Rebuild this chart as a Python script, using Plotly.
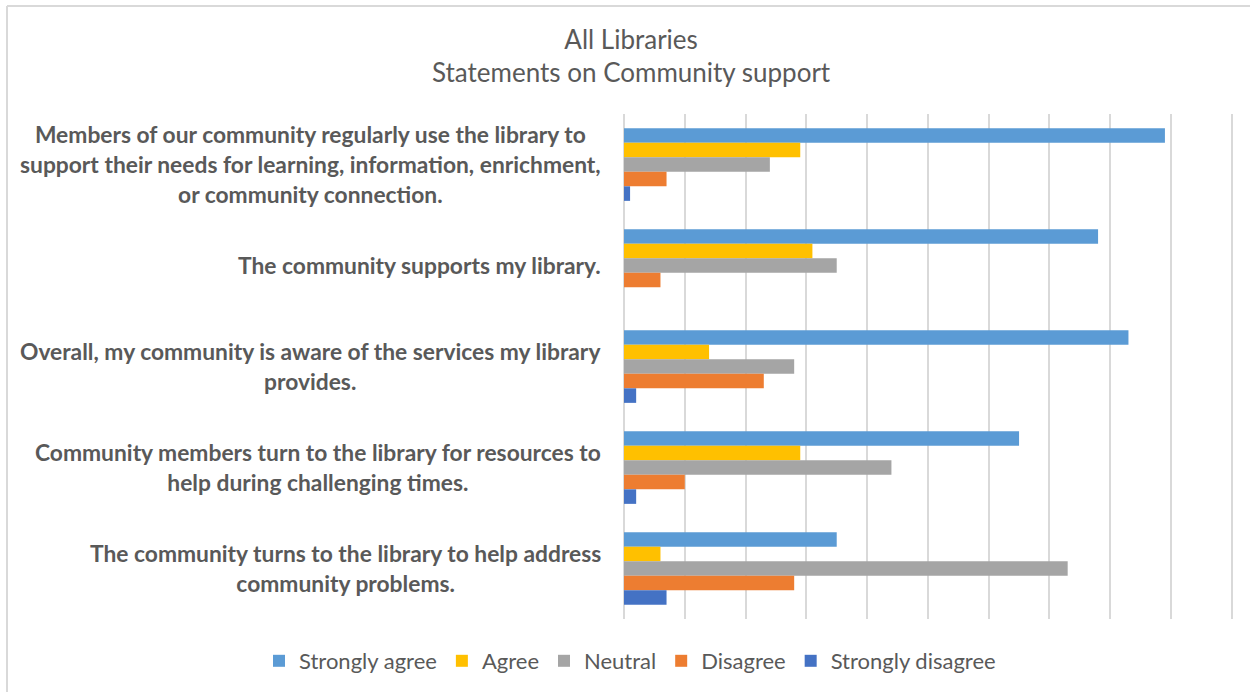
import plotly.graph_objects as go

# Survey statements (top to bottom) and response counts per answer
statements = [
    "Members of our community regularly use the library to<br>support their needs for learning, information, enrichment,<br>or community connection.",
    "The community supports my library.",
    "Overall, my community is aware of the services my library<br>provides.",
    "Community members turn to the library for resources to<br>help during challenging times.",
    "The community turns to the library to help address<br>community problems.",
]
categories = ["S1", "S2", "S3", "S4", "S5"]

strongly_agree = [89, 78, 83, 65, 35]
agree = [29, 31, 14, 29, 6]
neutral = [24, 35, 28, 44, 73]
disagree = [7, 6, 23, 10, 28]
strongly_disagree = [1, 0, 2, 2, 7]

series = [
    ("Strongly agree", strongly_agree, "#5B9BD5"),
    ("Agree", agree, "#FFC000"),
    ("Neutral", neutral, "#A5A5A5"),
    ("Disagree", disagree, "#ED7D31"),
    ("Strongly disagree", strongly_disagree, "#4472C4"),
]

TEXT = "#595959"
FONT = "Lato"

# plot area in pixels
L, T, W, H = 624, 114, 609, 505
XMAX = 100.2

fig = go.Figure()
for name, vals, color in series:
    fig.add_trace(go.Bar(
        y=categories, x=vals, name=name, orientation="h",
        marker=dict(color=color, line=dict(width=0)),
    ))


def spaced(text, size):
    # wrap each line so the glyph size is smaller than the line pitch
    return "<br>".join(f"<span style='font-size:{size}px'>{ln}</span>" for ln in text.split("<br>"))


def px_x(p):
    return (p - L) / W


def px_y(p):
    return 1 - (p - T) / H


annotations = []
for cat, label in zip(categories, statements):
    annotations.append(dict(
        x=0, xref="paper", y=cat, yref="y",
        xanchor="right", yanchor="middle", align="center", xshift=-21, yshift=1,
        text="<b>" + spaced(label, 22.8) + "</b>", showarrow=False,
        font=dict(family=FONT, size=23, color=TEXT),
    ))

# two-line chart heading
annotations.append(dict(
    x=px_x(631), xref="paper", y=px_y(56), yref="paper",
    xanchor="center", yanchor="middle", align="center",
    text=spaced("All Libraries<br>Statements on Community support", 26), showarrow=False,
    font=dict(family=FONT, size=25.5, color=TEXT),
))

border = dict(color="#D9D9D9", width=2)

fig.update_layout(
    width=1250, height=692,
    margin=dict(l=L, r=1250 - L - W, t=T, b=692 - T - H, autoexpand=False),
    paper_bgcolor="white", plot_bgcolor="white",
    barmode="group", bargap=0.28, bargroupgap=0,
    font=dict(family=FONT, color=TEXT),
    xaxis=dict(
        range=[0, XMAX], dtick=10, showgrid=True, gridcolor="#D9D9D9", gridwidth=1.5,
        zeroline=True, zerolinecolor="#D9D9D9", zerolinewidth=1.5,
        showticklabels=False, showline=False, fixedrange=True,
    ),
    yaxis=dict(
        categoryorder="array", categoryarray=categories, autorange="reversed",
        showticklabels=False, showgrid=False, zeroline=False, showline=False,
    ),
    legend=dict(
        orientation="h", traceorder="normal",
        xref="paper", x=px_x(259), xanchor="left",
        yref="paper", y=px_y(661), yanchor="middle",
        font=dict(family=FONT, size=22, color=TEXT),
        itemwidth=30,
    ),
    annotations=annotations,
    shapes=[
        dict(type="line", xref="paper", yref="paper",
             x0=px_x(7), x1=px_x(7), y0=px_y(700), y1=px_y(6), line=border),
        dict(type="line", xref="paper", yref="paper",
             x0=px_x(7), x1=px_x(1260), y0=px_y(6), y1=px_y(6), line=border),
    ],
)

fig.write_html("out.html")
